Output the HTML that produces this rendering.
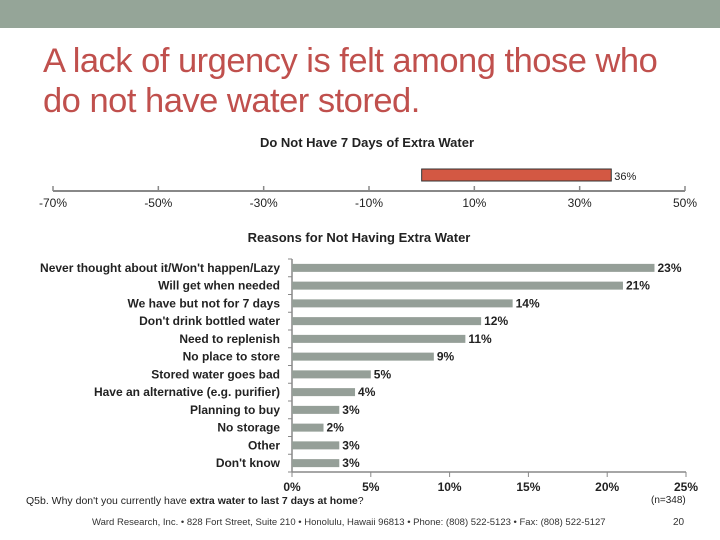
<!DOCTYPE html>
<html><head><meta charset="utf-8"><style>
body{margin:0;width:720px;height:540px;background:#fff;overflow:hidden;font-family:"Liberation Sans",sans-serif;}
.hdr{position:absolute;left:0;top:0;width:720px;height:28px;background:#95a598}
.title{position:absolute;left:43px;top:41px;font-size:34.5px;line-height:40px;color:#c0504d;letter-spacing:-0.5px;white-space:nowrap}
svg{position:absolute;left:0;top:0}
</style></head><body>
<div class="hdr"></div>
<div class="title">A lack of urgency is felt among those who<br>do not have water stored.</div>
<svg id="c" width="720" height="540" font-family="Liberation Sans, sans-serif"></svg>
<script>
const topCats=["Do Not Have 7 Days"];
const topVals=[36];
const topTicks=[-70,-50,-30,-10,10,30,50];
const cats=["Never thought about it/Won't happen/Lazy","Will get when needed","We have but not for 7 days","Don't drink bottled water","Need to replenish","No place to store","Stored water goes bad","Have an alternative (e.g. purifier)","Planning to buy","No storage","Other","Don't know"];
const vals=[23,21,14,12,11,9,5,4,3,2,3,3];
const ticks=[0,5,10,15,20,25];
const NS="http://www.w3.org/2000/svg",s=document.getElementById('c');
function el(t,a,txt){const e=document.createElementNS(NS,t);for(const k in a)e.setAttribute(k,a[k]);if(txt!=null)e.textContent=txt;s.appendChild(e);return e;}
const tx=v=>53+(v+70)/120*632;
let e=el('text',{x:367,y:147,'text-anchor':'middle','font-size':13,'font-weight':'bold',fill:'#222'},'Do Not Have 7 Days of Extra Water');

e=el('line',{x1:tx(-70),x2:tx(50),y1:191,y2:191,stroke:'#888','stroke-width':2});

topTicks.forEach(t=>{el('line',{x1:tx(t),x2:tx(t),y1:186,y2:191,stroke:'#888','stroke-width':1.5});
 e=el('text',{x:tx(t),y:207,'text-anchor':'middle','font-size':12,fill:'#222'},t+'%');
 });
topVals.forEach(v=>{e=el('rect',{x:tx(0),y:169,width:tx(v)-tx(0),height:12,fill:'#d35843',stroke:'#333','stroke-width':1});
 
 e=el('text',{x:tx(v)+3,y:180,'font-size':11,fill:'#222'},v+'%');
 });
e=el('text',{x:359,y:242,'text-anchor':'middle','font-size':13,'font-weight':'bold',fill:'#222'},'Reasons for Not Having Extra Water');

const bx=v=>292+v/25*394, y0=259, step=17.75;
const yc=i=>y0+step*(i+0.5);
e=el('line',{x1:292,x2:292,y1:y0,y2:472,stroke:'#888','stroke-width':1.5});

e=el('line',{x1:292,x2:bx(25),y1:472,y2:472,stroke:'#888','stroke-width':1.5});

for(let i=0;i<=cats.length;i++)el('line',{x1:288,x2:292,y1:y0+step*i,y2:y0+step*i,stroke:'#888'});
ticks.forEach(t=>{el('line',{x1:bx(t),x2:bx(t),y1:472,y2:477,stroke:'#888'});
 e=el('text',{x:bx(t),y:491,'text-anchor':'middle','font-size':12,'font-weight':'bold',fill:'#222'},t+'%');
 });
cats.forEach((c,i)=>{
 e=el('text',{x:280,y:yc(i)+4,'text-anchor':'end','font-size':12,'font-weight':'bold',fill:'#222'},c);
 
 e=el('rect',{x:292,y:yc(i)-4,width:bx(vals[i])-292,height:8,fill:'#959f98'});
 
 e=el('text',{x:bx(vals[i])+3,y:yc(i)+4,'font-size':12,'font-weight':'bold',fill:'#222'},vals[i]+'%');
 
});
</script>
<div style="position:absolute;left:26px;top:495px;font-size:10.5px;color:#222">Q5b. Why don't you currently have <b>extra water to last 7 days at home</b>?</div>
<div style="position:absolute;left:651px;top:495px;font-size:10px;color:#222">(n=348)</div>
<div style="position:absolute;left:92px;top:517px;font-size:9.5px;color:#333">Ward Research, Inc. • 828 Fort Street, Suite 210 • Honolulu, Hawaii 96813 • Phone: (808) 522-5123 • Fax: (808) 522-5127</div>
<div style="position:absolute;left:673px;top:517px;font-size:10px;color:#333">20</div>
</body></html>
